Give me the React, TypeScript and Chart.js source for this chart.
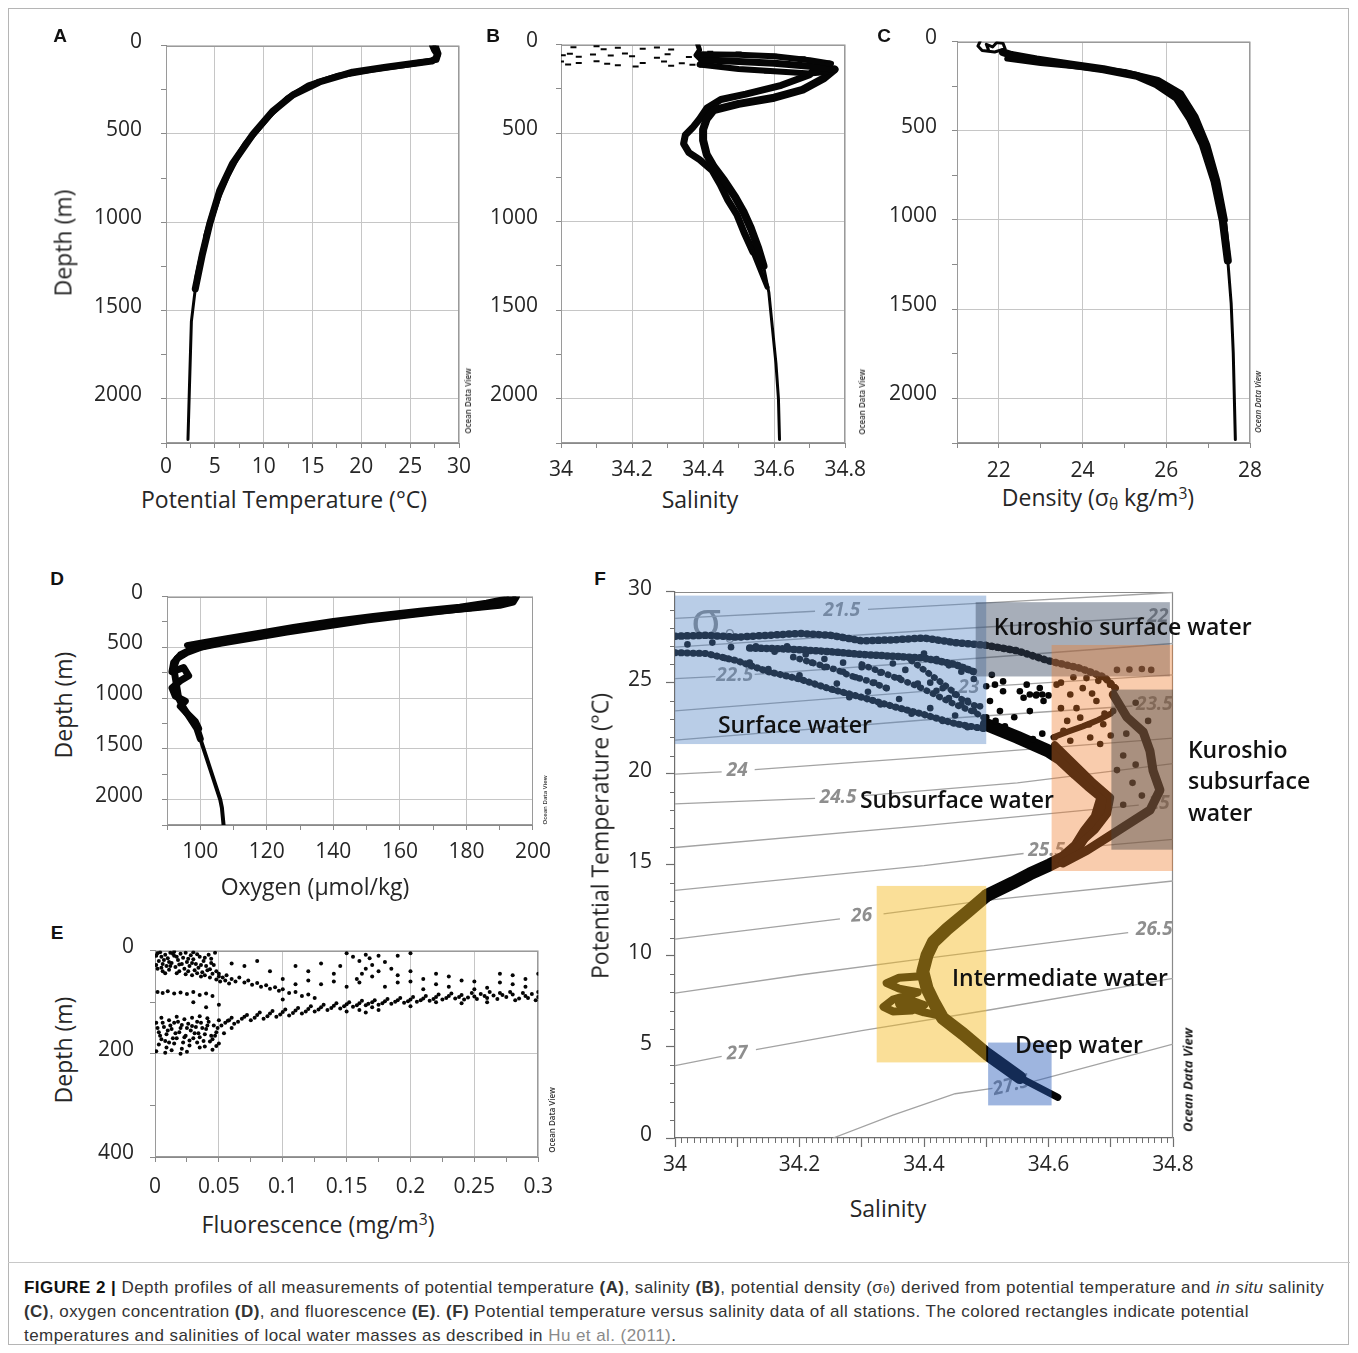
import React, { useEffect, useRef } from "react";
import { Chart, registerables } from "chart.js";

Chart.register(...registerables);
Chart.defaults.font.family = '"Open Sans", sans-serif';

type Pt = [number, number] | null;

// ================= DATA =================
// A: potential temperature (°C) vs depth (m)
const tempProfileMain: Pt[] = [[27.3,0],[27.5,25],[27.8,50],[27.6,75],[27.2,88],[25.9,97],[22.5,122],[19.1,150],[15.7,206],[13.0,279],[10.9,373],[8.9,502],[6.8,669],[5.5,820],[4.5,1004],[3.7,1188],[3.0,1377],[2.6,1561],[2.4,1935],[2.25,2230]];
const tempProfileSpread: Pt[] = [[27.6,0],[27.9,45],[27.7,80],[24.5,110],[21,138],[17.5,172],[14.6,225],[12.4,300],[10.6,395],[9.3,480],[8.1,560],[7.2,640],[6.3,735],[5.4,850],[4.8,950],[4.1,1080],[3.45,1230],[3.1,1320]];

// B: salinity vs depth (m)
const salProfileMain: Pt[] = [[34.77,140],[34.74,190],[34.68,255],[34.6,300],[34.5,335],[34.43,370],[34.41,420],[34.40,480],[34.40,540],[34.41,620],[34.43,690],[34.46,770],[34.49,860],[34.515,950],[34.535,1040],[34.555,1150],[34.57,1250],[34.585,1400],[34.595,1600],[34.605,1800],[34.612,2000],[34.615,2230]];
const salProfileSpread: Pt[] = [[34.72,125],[34.7,170],[34.62,230],[34.52,280],[34.45,310],[34.41,360],[34.39,420],[34.37,470],[34.35,510],[34.345,560],[34.36,610],[34.39,650],[34.425,710],[34.448,790],[34.47,880],[34.495,960],[34.515,1060],[34.54,1170],[34.562,1280],[34.58,1370]];
const salSurfaceBandUpper: Pt[] = [[34.39,55],[34.5,58],[34.6,66],[34.7,88],[34.76,108]];
const salSurfaceBandMid: Pt[] = [[34.4,85],[34.5,95],[34.6,105],[34.7,122],[34.77,140]];
const salSurfaceBandLower: Pt[] = [[34.39,112],[34.5,138],[34.6,150],[34.7,163],[34.76,152]];
const salSurfaceColumn: Pt[] = [[34.385,0],[34.39,30],[34.38,60],[34.395,90],[34.39,115]];
const salSurfaceDashes: Pt[] = [[34.035,15],[34.1,10],[34.12,26],[34.16,18],[34.23,24],[34.27,16],[34.31,28],[34.005,60],[34.025,52],[34.05,68],[34.09,56],[34.14,62],[34.18,50],[34.2,66],[34.27,74],[34.3,54],[34.36,70],[34.0,96],[34.02,112],[34.05,104],[34.1,94],[34.13,108],[34.16,116],[34.21,124],[34.23,104],[34.29,96],[34.31,120],[34.34,106],[34.37,114],[34.4,124],[34.44,116],[34.48,128],[34.42,40],[34.5,45],[34.6,58],[34.68,72],[34.75,95],[34.45,130],[34.58,158],[34.7,172]];

// C: potential density (sigma-theta) vs depth (m)
const densProfileMain: Pt[] = [[22.1,60],[22.3,75],[22.9,100],[23.7,128],[24.5,155],[25.3,192],[25.77,240],[26.25,316],[26.56,428],[26.87,575],[27.15,781],[27.35,1004],[27.47,1227],[27.55,1467],[27.6,1746],[27.65,2231]];
const densProfileSpread: Pt[] = [[22.2,95],[23,120],[24,142],[25,170],[25.8,215],[26.35,290],[26.7,420],[26.98,580],[27.22,780],[27.4,1000],[27.48,1180]];
const densSurface: Pt[] = [[21.55,0],[21.5,25],[21.6,50],[21.9,58],[22.15,40],[22.1,10],[21.95,5],[21.85,30],[21.7,15],[21.75,45]];

// D: oxygen (µmol/kg) vs depth (m)
const oxyProfileMain: Pt[] = [[194,10],[192,40],[189,70],[185,95],[176,130],[163,180],[150,230],[138,290],[126,350],[115,410],[106,460],[100,500],[96,550],[93,610],[92,700],[92.5,800],[93,900],[93.5,1000],[95,1100],[97,1200],[99,1300],[100,1400],[101.5,1550],[103,1700],[104.5,1850],[106,2000],[106.5,2080],[107,2250]];
const oxyProfileSpread: Pt[] = [[195,0],[194,55],[190,85],[181,115],[170,148],[157,195],[144,250],[131,310],[119,375],[109,435],[102,480],[97,525],[94,575],[92,650],[91.5,740],[95,700],[96.5,780],[94,830],[91.5,900],[92.5,980],[95.5,1030],[94,1080],[96,1150],[98.5,1230],[99.5,1300]];
const oxyProfileUpper: Pt[] = [[192,20],[186,60],[178,100],[166,140],[152,190],[140,240],[128,300],[117,360],[108,410],[101,450],[96,480]];

// E: fluorescence (mg/m³) vs depth (m)
const fluoPoints: Pt[] = [
[0.002,5],[0.005,12],[0.008,8],[0.01,15],[0.012,4],[0.015,10],[0.018,18],[0.02,6],[0.022,14],[0.025,22],[0.028,9],[0.03,17],[0.032,26],[0.035,12],[0.038,20],[0.04,30],[0.042,8],[0.044,24],[0.003,20],[0.006,26],[0.009,30],[0.013,24],[0.016,32],[0.019,27],[0.023,35],[0.027,30],[0.031,38],[0.034,33],[0.037,42],[0.041,38],[0.045,45],[0.002,35],[0.006,40],[0.011,37],[0.017,44],[0.024,46],[0.029,48],[0.036,50],[0.043,52],[0.048,56],[0.05,50],[0.047,4],[0.03,3],[0.015,2],
[0.001,10],[0.004,3],[0.007,18],[0.011,22],[0.014,6],[0.017,12],[0.021,26],[0.024,4],[0.026,16],[0.029,24],[0.033,7],[0.036,28],[0.039,14],[0.043,36],[0.046,28],[0.001,28],[0.005,33],[0.008,44],[0.012,30],[0.019,40],[0.026,40],[0.033,44],[0.039,48],[0.044,16],[0.048,40],[0.051,60],[0.055,58],[0.058,64],
[0.05,45],[0.053,52],[0.056,48],[0.06,55],[0.063,60],[0.066,52],[0.07,62],[0.073,58],[0.076,66],[0.08,63],[0.083,70],[0.087,67],[0.09,74],[0.094,71],[0.097,78],[0.1,75],[0.105,82],[0.11,80],[0.115,88],[0.12,85],[0.125,92],
[0.002,80],[0.006,82],[0.01,79],[0.015,83],[0.02,81],[0.025,84],[0.03,80],[0.035,86],[0.04,83],[0.045,88],
[0.002,150],[0.004,165],[0.006,140],[0.008,175],[0.01,155],[0.012,145],[0.014,170],[0.016,160],[0.018,138],[0.02,150],[0.022,178],[0.024,165],[0.026,142],[0.028,155],[0.03,170],[0.032,148],[0.034,160],[0.036,140],[0.038,175],[0.04,152],[0.042,138],[0.044,165],[0.046,145],[0.048,158],[0.05,135],[0.003,182],[0.009,188],[0.015,180],[0.021,190],[0.027,184],[0.033,178],[0.039,186],[0.045,172],[0.05,180],[0.005,130],[0.011,135],[0.017,128],[0.023,133],[0.029,130],[0.035,127],[0.041,131],[0.001,195],[0.008,198],[0.02,200],[0.013,193],
[0.001,140],[0.003,158],[0.005,172],[0.007,148],[0.009,162],[0.011,178],[0.013,152],[0.015,140],[0.017,170],[0.019,158],[0.021,144],[0.023,168],[0.025,150],[0.027,174],[0.029,146],[0.031,160],[0.033,138],[0.035,168],[0.037,150],[0.039,162],[0.041,145],[0.043,176],[0.047,165],[0.049,150],[0.052,145],[0.054,160],[0.057,136],[0.06,150],[0.045,192],[0.035,188],[0.025,196],[0.048,185],
[0.055,140],[0.06,130],[0.065,138],[0.07,128],[0.075,135],[0.08,125],[0.085,132],[0.09,122],[0.095,128],[0.1,119],[0.105,126],[0.11,116],[0.115,122],[0.12,113],[0.125,118],[0.13,110],[0.135,115],[0.14,107],[0.145,112],[0.15,104],[0.155,109],[0.16,102],[0.165,106],[0.17,100],[0.175,105],[0.18,98],[0.185,103],[0.19,96],[0.195,101],[0.2,95],[0.205,99],[0.21,93],[0.215,97],[0.22,90],[0.225,95],[0.23,88],[0.235,93],[0.24,86],[0.245,91],[0.25,89],[0.255,84],[0.26,92],[0.265,87],[0.27,82],[0.275,90],[0.28,85],[0.285,93],[0.29,88],[0.295,84],[0.3,90],
[0.058,135],[0.062,142],[0.068,132],[0.072,125],[0.078,130],[0.082,120],[0.088,127],[0.092,117],[0.098,124],[0.102,114],[0.108,121],[0.112,111],[0.118,118],[0.122,108],[0.128,114],[0.132,105],[0.138,111],[0.142,102],[0.148,108],[0.152,100],[0.158,106],[0.162,97],[0.167,103],[0.172,96],[0.178,102],[0.182,94],[0.188,99],[0.192,92],[0.198,98],[0.202,90],[0.208,96],[0.212,88],[0.218,94],[0.222,85],[0.228,92],[0.232,83],[0.238,90],[0.242,95],[0.248,82],[0.252,94],[0.258,88],[0.262,80],[0.268,94],[0.272,86],[0.278,80],[0.282,96],[0.288,82],[0.292,92],[0.298,96],
[0.15,5],[0.155,12],[0.16,20],[0.165,8],[0.168,15],[0.17,28],[0.165,35],[0.162,45],[0.17,50],[0.175,40],[0.18,22],[0.185,35],[0.19,48],[0.158,55],[0.145,30],[0.14,45],[0.13,25],[0.12,40],[0.11,30],[0.1,55],[0.2,60],[0.21,55],[0.22,65],[0.23,70],[0.24,58],[0.25,75],[0.26,72],[0.27,45],[0.28,65],[0.29,55],[0.3,45],[0.2,5],[0.19,10],[0.175,10],[0.16,62],[0.18,70],[0.13,65],[0.09,40],[0.07,30],[0.08,20],[0.06,25],[0.1,95],[0.05,105],[0.03,100],[0.04,110],
[0.16,115],[0.165,120],[0.17,110],[0.15,118],[0.175,115],[0.2,108],[0.22,100],[0.24,102],[0.26,100],[0.11,65],[0.12,58],[0.14,60],[0.15,70],[0.19,62],[0.2,40],[0.21,75],[0.23,50],[0.25,60],[0.27,62],[0.29,70],[0.3,80],[0.28,48],[0.22,45]];

// F: T–S diagram (salinity, potential temperature °C)
const tsTopTrack: Pt[] = [[34.0,27.55],[34.05,27.6],[34.1,27.5],[34.15,27.6],[34.2,27.7],[34.25,27.6],[34.3,27.3],[34.35,27.35],[34.4,27.45],[34.45,27.2],[34.5,27.05],[34.55,26.75],[34.6,26.2],[34.65,25.8],[34.69,25.3],[34.71,24.6]];
const tsLowerTrack: Pt[] = [[34.0,26.65],[34.05,26.6],[34.1,26.2],[34.15,25.6],[34.2,25.2],[34.25,24.65],[34.3,24.2],[34.35,23.7],[34.4,23.25],[34.45,22.75],[34.5,22.45]];
const tsMiddleTrack: Pt[] = [[34.12,26.9],[34.18,26.85],[34.25,26.7],[34.3,26.55],[34.35,26.45],[34.4,26.35],[34.45,26.0],[34.48,25.6]];
const tsSurfaceStreaks: Pt[][] = [
  [[34.2,26.3],[34.23,26.0],[34.26,25.7],[34.28,25.4],[34.31,25.1],[34.34,24.7]],
  [[34.3,26.0],[34.33,25.6],[34.36,25.2],[34.39,24.8],[34.42,24.3],[34.45,23.8],[34.48,23.4],[34.5,23.0]],
  [[34.38,26.2],[34.4,25.7],[34.42,25.2],[34.44,24.7],[34.46,24.1],[34.49,23.6]],
];
const tsSurfaceDots: Pt[] = [[34.02,27.1],[34.06,27.2],[34.09,26.95],[34.13,27.0],[34.16,26.7],[34.19,26.4],[34.22,26.1],[34.24,25.85],[34.27,25.6],[34.29,25.3],[34.32,25.0],[34.34,24.7],[34.18,27.0],[34.21,26.55],[34.24,26.3],[34.27,26.1],[34.3,25.85],[34.33,25.55],[34.36,25.25],[34.39,24.95],[34.42,24.55],[34.44,24.15],[34.46,23.8],[34.48,23.45],[34.5,23.1],[34.35,26.05],[34.37,25.7],[34.41,25.0],[34.43,24.7],[34.45,24.35],[34.47,24.0],[34.49,23.7],[34.4,26.6],[34.42,26.3],[34.44,25.95],[34.46,25.6],[34.48,25.2],[34.5,24.8],[34.12,26.1],[34.08,26.35],[34.15,25.75],[34.2,25.4],[34.26,24.95],[34.31,24.5],[34.36,24.1],[34.41,23.6],[34.45,23.2],[34.28,24.2],[34.33,23.8],[34.38,23.3],[34.43,22.9],[34.47,22.55]];
const tsTransitionDots: Pt[] = [[34.509,25.43],[34.514,24.89],[34.527,25.07],[34.527,24.53],[34.554,24.53],[34.565,24.89],[34.581,24.35],[34.586,24.71],[34.592,23.99],[34.56,24.17],[34.506,23.99],[34.522,23.44],[34.57,23.44],[34.57,24.35],[34.58,24.3],[34.59,24.35],[34.6,24.3],[34.515,22.9],[34.53,22.6],[34.545,23.1],[34.59,22.2],[34.575,21.9]];
const tsOrangeDots: Pt[] = [[34.613,24.89],[34.635,24.35],[34.661,25.25],[34.677,23.99],[34.651,23.08],[34.624,22.36],[34.688,22.72],[34.667,21.99],[34.699,24.89],[34.635,21.81],[34.683,21.63],[34.704,23.44],[34.62,23.6],[34.645,23.6],[34.665,22.7],[34.63,22.9],[34.655,24.7],[34.68,25.1],[34.61,22.0],[34.69,23.3],[34.7,22.1],[34.67,24.4],[34.64,25.3],[34.62,25.0],[34.71,25.7],[34.73,25.72],[34.75,25.75],[34.765,25.7],[34.72,21.0],[34.74,20.5],[34.735,19.5],[34.75,18.8],[34.72,18.3],[34.71,20.2],[34.725,22.2],[34.74,23.9],[34.76,22.9]];
const tsOrangeBand: Pt[] = [[34.608,22.0],[34.63,22.3],[34.655,22.6],[34.68,22.95],[34.7,23.3]];
const tsSubsurfaceBand: Pt[] = [[34.5,22.7],[34.55,22.0],[34.6,21.25],[34.62,20.8],[34.645,20.0],[34.665,19.4],[34.688,18.75],[34.678,17.6],[34.66,16.8],[34.646,16.03],[34.625,15.4],[34.602,15.0],[34.57,14.5],[34.543,14.02],[34.501,13.32]];
const tsSubsurfaceEdge: Pt[] = [[34.61,21.6],[34.64,20.6],[34.67,19.6],[34.7,18.7],[34.695,17.8],[34.675,16.9],[34.645,16.0],[34.615,15.3]];
const tsKuroshioBand: Pt[] = [[34.704,24.35],[34.726,23.1],[34.752,22.3],[34.763,21.25],[34.768,20.16],[34.779,19.1],[34.763,18.0],[34.731,17.3],[34.699,16.6],[34.662,15.8],[34.623,15.1]];
const tsDeepBand: Pt[] = [[34.501,13.32],[34.469,12.39],[34.437,11.47],[34.415,10.76],[34.405,10.05],[34.398,9.13],[34.405,8.2],[34.415,7.5],[34.43,6.58],[34.463,5.71],[34.501,4.62],[34.554,3.32],[34.615,2.23]];
const tsLoop: Pt[] = [[34.40,8.9],[34.36,8.8],[34.34,8.5],[34.36,8.2],[34.39,8.0],[34.35,7.6],[34.335,7.2],[34.35,6.95],[34.38,7.0],[34.40,7.3],[34.38,7.55],[34.36,7.35],[34.4,6.9],[34.43,6.7]];

// isopycnals (sigma-theta), gaps (null) where labels sit
const isopycnalLines: Pt[][] = [
  [[34.0,28.53],[34.225,28.92],null,[34.31,29.02],[34.5,29.38],[34.8,29.95]],
  [[34.0,26.95],[34.4,27.85],[34.745,28.55]],
  [[34.0,25.22],[34.065,25.33],null,[34.128,25.45],[34.4,26.12],[34.8,27.15]],
  [[34.0,23.45],[34.45,24.66],null,[34.495,24.78],[34.8,25.43]],
  [[34.0,21.85],[34.4,22.95],[34.735,23.72]],
  [[34.0,19.98],[34.075,20.1],null,[34.128,20.22],[34.4,20.9],[34.8,21.95]],
  [[34.0,18.35],[34.225,18.65],null,[34.3,18.78],[34.55,19.5],[34.8,20.55]],
  [[34.0,15.95],[34.4,17.15],[34.745,18.28]],
  [[34.0,13.6],[34.4,14.95],[34.56,15.62],null,[34.635,15.9],[34.8,16.4]],
  [[34.0,10.92],[34.265,12.03],null,[34.335,12.3],[34.5,13.05],[34.8,14.11]],
  [[34.0,7.95],[34.2,8.95],[34.4,9.85],[34.728,11.28]],
  [[34.0,3.97],[34.075,4.48],null,[34.13,4.85],[34.3,5.9],[34.5,7.0],[34.8,8.77]],
  [[34.254,0],[34.35,1.25],[34.45,2.43],[34.51,2.72],null,[34.57,3.05],[34.8,5.15]],
];
const isopycnalLabels = ["21.5","22","22.5","23","23.5","24","24.5","25","25.5","26","26.5","27","27.5"];
const isopycnalLabelAt: [number, number][] = [[34.268,28.97],[34.776,28.64],[34.096,25.38],[34.472,24.72],[34.77,23.8],[34.1,20.16],[34.262,18.7],[34.778,18.35],[34.597,15.76],[34.3,12.2],[34.77,11.42],[34.1,4.64],[34.54,2.88]];
const isopycnalLabelTilt = [0,0,0,0,0,0,0,0,0,-3,0,-3,-14];

// water masses: [S min, S max, T min, T max]
const waterMassBoxes: [number, number, number, number][] = [
  [34.0, 34.5, 21.63, 29.78],     // Surface water
  [34.483, 34.795, 25.34, 29.42], // Kuroshio surface water
  [34.605, 34.8, 14.66, 27.07],   // Subsurface water
  [34.701, 34.8, 15.83, 24.62],   // Kuroshio subsurface water
  [34.324, 34.5, 4.15, 13.84],    // Intermediate water
  [34.503, 34.605, 1.79, 5.24],   // Deep water
];
const waterMassFill = ["rgba(80,130,195,0.4)","rgba(60,75,100,0.45)","rgba(240,120,40,0.38)","rgba(70,70,70,0.45)","rgba(245,185,30,0.46)","rgba(40,90,185,0.45)"];
const waterMassText = ["Surface water","Kuroshio surface water","Subsurface water","Kuroshio","subsurface","water","Intermediate water","Deep water"];
const waterMassTextAt: [number, number][] = [[34.069,22.61],[34.512,27.99],[34.297,18.48],[34.824,21.25],[34.824,19.51],[34.824,17.77],[34.445,8.70],[34.546,5.05]];

// ================= HELPERS =================
const toXY = (a: Pt[]) => a.map((p) => (p ? { x: p[0], y: p[1] } : { x: NaN, y: NaN }));
const isMult = (v: number, m: number) => Math.abs(v / m - Math.round(v / m)) < 1e-6;
const fmt = (v: number) => String(+v.toFixed(3));

const lineDs = (pts: Pt[], width: number, thin?: number, brk?: number, byY = true) => ({
  data: toXY(pts),
  showLine: true,
  borderColor: "#050505",
  backgroundColor: "#050505",
  borderWidth: width,
  pointRadius: 0,
  borderJoinStyle: "round",
  borderCapStyle: "round",
  spanGaps: false,
  segment:
    thin !== undefined
      ? { borderWidth: (c: any) => (byY ? (c.p1.parsed.y > (brk as number) ? thin : width) : (c.p0.parsed.y < (brk as number) ? thin : width)) }
      : undefined,
});
const beadDs = (pts: Pt[], width: number, gap: number) => ({
  data: toXY(pts),
  showLine: true,
  borderColor: "#050505",
  borderWidth: width,
  borderDash: [0.5, gap],
  borderCapStyle: "round",
  borderJoinStyle: "round",
  pointRadius: 0,
});
const dotDs = (pts: Pt[], r: number, style: string = "circle") => ({
  data: toXY(pts),
  showLine: false,
  pointRadius: r,
  pointStyle: style,
  pointBackgroundColor: "#050505",
  pointBorderColor: "#050505",
  pointBorderWidth: style === "line" ? 2 : 0,
});

const framePlugin = {
  id: "frame",
  beforeDatasetsDraw(chart: any) {
    const { ctx, chartArea: a } = chart;
    ctx.save();
    ctx.strokeStyle = "#9a9a9a";
    ctx.lineWidth = 1;
    ctx.strokeRect(Math.round(a.left) + 0.5, Math.round(a.top) + 0.5, Math.round(a.right - a.left) - 1, Math.round(a.bottom - a.top) - 1);
    ctx.restore();
  },
};

type Rect = { l: number; t: number; w: number; h: number };
type Axis = { min: number; max: number; step: number; major: number; pad: number; reverse?: boolean };

function profileConfig(c: Rect, p: { l: number; t: number; r: number; b: number }, xa: Axis, ya: Axis, datasets: any[]) {
  const yw = p.l - c.l;
  const xh = c.t + c.h - p.b;
  const axis = (a: Axis, horiz: boolean) => ({
    type: "linear",
    min: a.min,
    max: a.max,
    reverse: !!a.reverse,
    afterFit: (s: any) => {
      if (horiz) s.height = xh;
      else s.width = yw;
    },
    border: { display: true, color: "#8a8a8a", width: 1 },
    grid: {
      drawOnChartArea: true,
      color: (cx: any) => (cx.tick && isMult(cx.tick.value, a.major) ? "#c6c6c6" : "rgba(0,0,0,0)"),
      tickColor: "#8a8a8a",
      tickLength: 5,
      lineWidth: 1,
    },
    ticks: {
      stepSize: a.step,
      autoSkip: false,
      maxRotation: 0,
      minRotation: 0,
      padding: a.pad,
      labelOffset: horiz ? 0 : -4,
      color: "#262626",
      font: { size: 21, family: '"Open Sans"' },
      callback: (v: number) => (isMult(v, a.major) ? fmt(v) : ""),
    },
  });
  return {
    type: "scatter",
    data: { datasets },
    options: {
      animation: false,
      responsive: false,
      maintainAspectRatio: false,
      events: [],
      layout: { padding: { left: 0, top: p.t - c.t, right: c.l + c.w - p.r, bottom: 0 } },
      plugins: { legend: { display: false }, tooltip: { enabled: false } },
      scales: { x: axis(xa, true), y: axis(ya, false) },
    },
    plugins: [framePlugin],
  };
}

// ---- panel F plugins ----
const tsFrame = {
  id: "tsFrame",
  beforeDatasetsDraw(chart: any) {
    const { ctx, chartArea: a } = chart;
    ctx.save();
    ctx.strokeStyle = "#8a8a8a";
    ctx.lineWidth = 1.2;
    ctx.beginPath();
    ctx.moveTo(a.left, Math.round(a.top) + 0.5);
    ctx.lineTo(Math.round(a.right) - 0.5, Math.round(a.top) + 0.5);
    ctx.lineTo(Math.round(a.right) - 0.5, a.bottom);
    ctx.stroke();
    ctx.restore();
  },
};
const tsMinorTicks = {
  id: "tsMinorTicks",
  afterDraw(chart: any) {
    const { ctx, chartArea: a, scales } = chart;
    ctx.save();
    ctx.strokeStyle = "#6e6e6e";
    ctx.lineWidth = 1;
    ctx.beginPath();
    for (let i = 0; i <= 80; i++) {
      if (i % 10 === 0) continue;
      const px = Math.round(scales.x.getPixelForValue(34 + i * 0.01)) + 0.5;
      ctx.moveTo(px, a.bottom);
      ctx.lineTo(px, a.bottom + 5);
    }
    for (let i = 0; i <= 30; i++) {
      if (i % 5 === 0) continue;
      const py = Math.round(scales.y.getPixelForValue(i)) + 0.5;
      ctx.moveTo(a.left - 5, py);
      ctx.lineTo(a.left, py);
    }
    ctx.stroke();
    ctx.restore();
  },
};
const tsOverlay = {
  id: "tsOverlay",
  beforeDatasetsDraw(chart: any) {
    const { ctx, scales } = chart;
    const { x, y } = scales;
    ctx.save();
    ctx.fillStyle = "#8e8e8e";
    ctx.textAlign = "center";
    ctx.textBaseline = "middle";
    ctx.font = 'italic bold 19px "Open Sans"';
    isopycnalLabels.forEach((lab, i) => {
      const [s, t] = isopycnalLabelAt[i];
      ctx.save();
      ctx.translate(x.getPixelForValue(s), y.getPixelForValue(t));
      ctx.rotate((isopycnalLabelTilt[i] * Math.PI) / 180);
      ctx.fillText(lab, 0, 0);
      ctx.restore();
    });
    ctx.fillStyle = "#8a8a8a";
    ctx.font = '50px "Open Sans"';
    ctx.fillText("σ", x.getPixelForValue(34.05), y.getPixelForValue(28.3));
    ctx.font = '19px "Open Sans"';
    ctx.fillText("θ", x.getPixelForValue(34.088), y.getPixelForValue(27.45));
    ctx.restore();
  },
  afterDatasetsDraw(chart: any) {
    const { ctx, scales } = chart;
    const { x, y } = scales;
    ctx.save();
    waterMassBoxes.forEach((b, i) => {
      const x0 = x.getPixelForValue(b[0]);
      const x1 = x.getPixelForValue(b[1]);
      const y0 = y.getPixelForValue(b[3]);
      const y1 = y.getPixelForValue(b[2]);
      ctx.fillStyle = waterMassFill[i];
      ctx.fillRect(x0, y0, x1 - x0, y1 - y0);
    });
    ctx.fillStyle = "#111";
    ctx.textAlign = "left";
    ctx.textBaseline = "middle";
    ctx.font = '600 23px "Open Sans"';
    waterMassText.forEach((t, i) => {
      const [s, v] = waterMassTextAt[i];
      ctx.fillText(t, x.getPixelForValue(s), y.getPixelForValue(v));
    });
    ctx.restore();
  },
};

function tsConfig() {
  const c: Rect = { l: 610, t: 565, w: 730, h: 620 };
  const p = { l: 675, t: 586, r: 1173, b: 1138 };
  const contourDs = isopycnalLines.map((ln) => ({
    data: toXY(ln),
    showLine: true,
    borderColor: "#a3a3a3",
    borderWidth: 1.3,
    pointRadius: 0,
    spanGaps: false,
  }));
  const datasets = [
    dotDs(tsSurfaceDots, 3.3),
    dotDs(tsTransitionDots, 3.3),
    dotDs(tsOrangeDots, 3.3),
    beadDs(tsTopTrack, 7.5, 5.5),
    beadDs(tsLowerTrack, 7, 5.5),
    beadDs(tsMiddleTrack, 7.5, 5),
    ...tsSurfaceStreaks.map((s) => beadDs(s, 6.5, 6.5)),
    lineDs(tsOrangeBand, 6),
    lineDs(tsKuroshioBand, 9),
    lineDs(tsSubsurfaceEdge, 7),
    lineDs(tsSubsurfaceBand, 13),
    lineDs(tsLoop, 8),
    lineDs(tsDeepBand, 13, 7, 4.2, false),
    ...contourDs,
  ];
  const tickFont = { size: 21, family: '"Open Sans"' };
  return {
    type: "scatter",
    data: { datasets },
    options: {
      animation: false,
      responsive: false,
      maintainAspectRatio: false,
      events: [],
      layout: { padding: { left: 0, top: p.t - c.t, right: c.l + c.w - p.r, bottom: 0 } },
      plugins: { legend: { display: false }, tooltip: { enabled: false } },
      scales: {
        x: {
          type: "linear",
          min: 34,
          max: 34.8,
          afterFit: (s: any) => {
            s.height = c.t + c.h - p.b;
          },
          border: { display: true, color: "#6e6e6e", width: 1.2 },
          grid: { drawOnChartArea: false, tickLength: 9, tickColor: "#6e6e6e", tickWidth: 1.2 },
          ticks: {
            stepSize: 0.1,
            autoSkip: false,
            maxRotation: 0,
            minRotation: 0,
            padding: 5,
            color: "#262626",
            font: tickFont,
            callback: (v: number) => (isMult(v, 0.2) ? fmt(v) : ""),
          },
        },
        y: {
          type: "linear",
          min: 0,
          max: 30,
          afterFit: (s: any) => {
            s.width = p.l - c.l;
          },
          border: { display: true, color: "#6e6e6e", width: 1.2 },
          grid: { drawOnChartArea: false, tickLength: 9, tickColor: "#6e6e6e", tickWidth: 1.2 },
          ticks: { stepSize: 5, autoSkip: false, padding: 14, labelOffset: -3, color: "#262626", font: tickFont, callback: (v: number) => fmt(v) },
        },
      },
    },
    plugins: [tsFrame, tsMinorTicks, tsOverlay],
  };
}

// ================= PANELS =================
const rectA: Rect = { l: 30, t: 14, w: 450, h: 466 };
const rectB: Rect = { l: 480, t: 14, w: 395, h: 466 };
const rectC: Rect = { l: 875, t: 14, w: 400, h: 466 };
const rectD: Rect = { l: 80, t: 565, w: 480, h: 305 };
const rectE: Rect = { l: 80, t: 922, w: 485, h: 283 };
const rectF: Rect = { l: 610, t: 565, w: 730, h: 620 };

const depthAxis = (pad: number): Axis => ({ min: 0, max: 2250, step: 250, major: 500, pad, reverse: true });

const makeA = () =>
  profileConfig(rectA, { l: 166, t: 40, r: 459, b: 443 }, { min: 0, max: 30, step: 2.5, major: 5, pad: 6 }, depthAxis(19), [
    lineDs(tempProfileMain, 7, 3, 1400),
    lineDs(tempProfileSpread, 6, 4.5, 1150),
  ]);
const makeB = () =>
  profileConfig(rectB, { l: 561, t: 40, r: 852, b: 443 }, { min: 34, max: 34.8, step: 0.1, major: 0.2, pad: 9 }, depthAxis(18), [
    dotDs(salSurfaceDashes, 3, "line"),
    lineDs(salSurfaceBandUpper, 6),
    lineDs(salSurfaceBandMid, 7),
    lineDs(salSurfaceBandLower, 6),
    lineDs(salSurfaceColumn, 5),
    lineDs(salProfileMain, 8, 3, 1380),
    lineDs(salProfileSpread, 7, 5, 1200),
  ]);
const makeC = () =>
  profileConfig(rectC, { l: 957, t: 40, r: 1250, b: 443 }, { min: 21, max: 28, step: 1, major: 2, pad: 10 }, depthAxis(15), [
    lineDs(densSurface, 3),
    lineDs(densProfileMain, 8, 3, 1400),
    lineDs(densProfileSpread, 6, 4, 1000),
  ]);
const makeD = () =>
  profileConfig(rectD, { l: 167, t: 584, r: 537, b: 825 }, { min: 90, max: 200, step: 10, major: 20, pad: 9 }, depthAxis(19), [
    lineDs(oxyProfileMain, 7, 4, 1400),
    lineDs(oxyProfileSpread, 7),
    lineDs(oxyProfileUpper, 6),
  ]);
const makeE = () =>
  profileConfig(rectE, { l: 155, t: 941, r: 541, b: 1157 }, { min: 0, max: 0.3, step: 0.025, major: 0.05, pad: 12 }, { min: 0, max: 400, step: 100, major: 200, pad: 16, reverse: true }, [
    dotDs(fluoPoints, 2),
  ]);

function ChartBox({ rect, make }: { rect: Rect; make: () => any }) {
  const ref = useRef<HTMLCanvasElement | null>(null);
  useEffect(() => {
    if (!ref.current) return;
    const chart = new Chart(ref.current, make());
    return () => chart.destroy();
  }, []);
  return <canvas ref={ref} width={rect.w} height={rect.h} style={{ position: "absolute", left: rect.l, top: rect.t, width: rect.w, height: rect.h }} />;
}

function Txt(props: { x: number; y: number; size: number; rot?: number; weight?: number; color?: string; family?: string; italic?: boolean; children: any }) {
  const { x, y, size, rot = 0, weight = 400, color = "#262626", family = '"Open Sans", sans-serif', italic = false, children } = props;
  return (
    <div
      style={{
        position: "absolute",
        left: x,
        top: y,
        transform: `translate(-50%, -50%) rotate(${rot}deg)`,
        fontSize: size,
        lineHeight: 1,
        fontFamily: family,
        fontWeight: weight,
        fontStyle: italic ? "italic" : "normal",
        whiteSpace: "nowrap",
        color,
        zIndex: 2,
      }}
    >
      {children}
    </div>
  );
}

const sub = { fontSize: "0.68em", verticalAlign: "-0.25em" };
const sup = { fontSize: "0.68em", verticalAlign: "0.45em" };
const capStyle: any = { position: "absolute", left: 24, fontFamily: '"Liberation Sans", Arial, sans-serif', fontSize: 17, letterSpacing: "0.44px", lineHeight: "18px", color: "#333", whiteSpace: "nowrap", zIndex: 2 };
const panelLetter = { size: 19, weight: 700, color: "#111", family: '"Liberation Sans", Arial, sans-serif' };

export default function App() {
  return (
    <div style={{ position: "absolute", left: 0, top: 0, width: 1358, height: 1353, background: "#fff", overflow: "hidden" }}>
      <div style={{ position: "absolute", left: 8, top: 8, width: 1341, height: 1337, border: "1px solid #b5b5b5", boxSizing: "border-box" }} />
      <div style={{ position: "absolute", left: 8, top: 1262, width: 1342, height: 1, background: "#c8c8c8" }} />

      <ChartBox rect={rectA} make={makeA} />
      <ChartBox rect={rectB} make={makeB} />
      <ChartBox rect={rectC} make={makeC} />
      <ChartBox rect={rectD} make={makeD} />
      <ChartBox rect={rectE} make={makeE} />
      <ChartBox rect={rectF} make={tsConfig} />

      <Txt x={60} y={35} {...panelLetter}>A</Txt>
      <Txt x={493} y={35} {...panelLetter}>B</Txt>
      <Txt x={884} y={35} {...panelLetter}>C</Txt>
      <Txt x={57} y={578} {...panelLetter}>D</Txt>
      <Txt x={57} y={932} {...panelLetter}>E</Txt>
      <Txt x={600} y={578} {...panelLetter}>F</Txt>

      <Txt x={284} y={499} size={23}>Potential Temperature (°C)</Txt>
      <Txt x={63} y={243} size={23} rot={-90}>Depth (m)</Txt>
      <Txt x={700} y={499} size={23}>Salinity</Txt>
      <Txt x={1098} y={499} size={23}>
        Density (σ<span style={sub}>θ</span> kg/m<span style={sup}>3</span>)
      </Txt>
      <Txt x={315} y={886} size={23}>Oxygen (µmol/kg)</Txt>
      <Txt x={63} y={705} size={23} rot={-90}>Depth (m)</Txt>
      <Txt x={318} y={1224} size={23}>
        Fluorescence (mg/m<span style={sup}>3</span>)
      </Txt>
      <Txt x={63} y={1050} size={23} rot={-90}>Depth (m)</Txt>
      <Txt x={888} y={1208} size={23}>Salinity</Txt>
      <Txt x={600} y={836} size={23} rot={-90}>Potential Temperature (°C)</Txt>

      <Txt x={468} y={401} size={8} rot={-90} weight={600} color="#333">Ocean Data View</Txt>
      <Txt x={862} y={402} size={8} rot={-90} weight={600} color="#333">Ocean Data View</Txt>
      <Txt x={1258} y={402} size={8} rot={-90} weight={600} italic color="#333">Ocean Data View</Txt>
      <Txt x={545} y={800} size={6} rot={-90} weight={600} color="#333">Ocean Data View</Txt>
      <Txt x={552} y={1120} size={8} rot={-90} weight={600} color="#333">Ocean Data View</Txt>
      <Txt x={1188} y={1080} size={13} rot={-90} weight={700} italic color="#222">Ocean Data View</Txt>

      <div style={{ ...capStyle, top: 1279 }}>
        <b style={{ color: "#111" }}>FIGURE 2 |</b> Depth profiles of all measurements of potential temperature <b>(A)</b>, salinity <b>(B)</b>, potential density (σ<span style={{ fontSize: "0.65em" }}>θ</span>) derived from potential temperature and <i>in situ</i> salinity
      </div>
      <div style={{ ...capStyle, top: 1303 }}>
        <b>(C)</b>, oxygen concentration <b>(D)</b>, and fluorescence <b>(E)</b>. <b>(F)</b> Potential temperature versus salinity data of all stations. The colored rectangles indicate potential
      </div>
      <div style={{ ...capStyle, top: 1327 }}>
        temperatures and salinities of local water masses as described in <span style={{ color: "#8a8a8a" }}>Hu et al. (2011)</span>.
      </div>
    </div>
  );
}
